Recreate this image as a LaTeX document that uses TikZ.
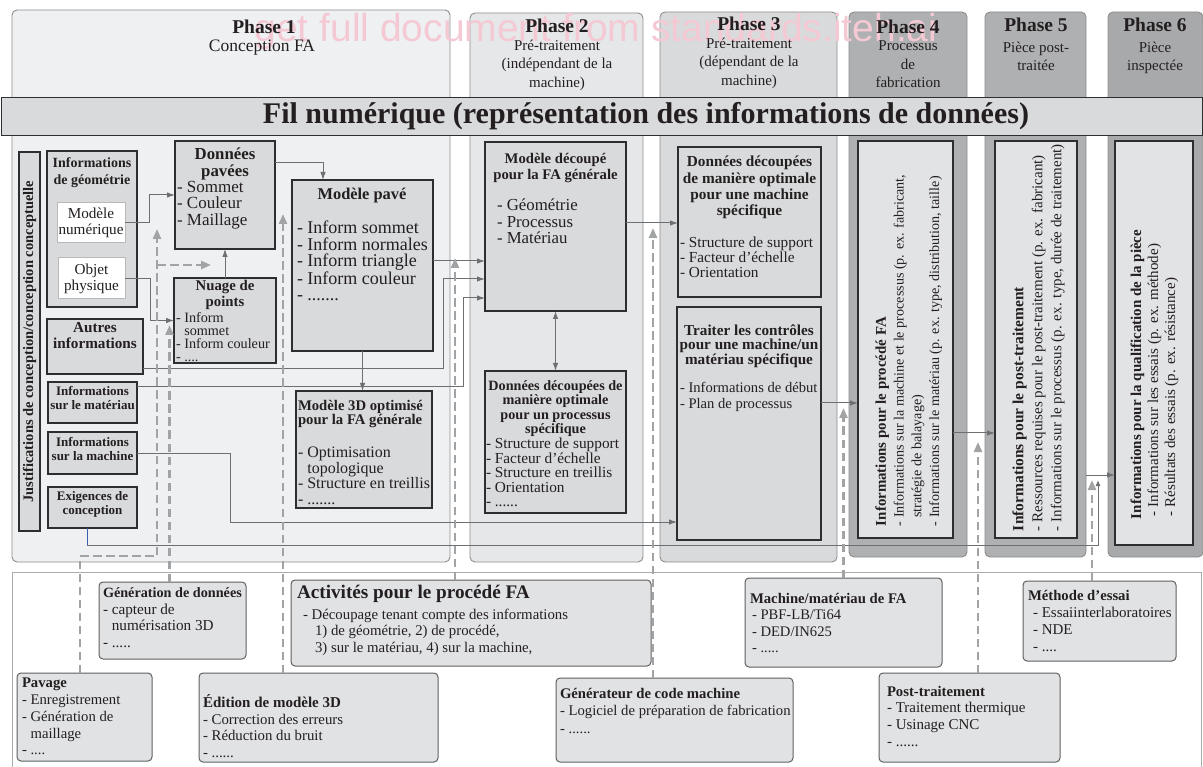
\documentclass[tikz,border=0pt]{standalone}
\usepackage{fontspec}
\setmainfont{Liberation Serif}
\newfontfamily\wmfont{Liberation Sans}
\usetikzlibrary{arrows.meta}
\newcommand\fsz[2]{\fontsize{#1}{#2}\selectfont}
\definecolor{pone}{HTML}{EFF0F2}
\definecolor{ptwo}{HTML}{E6E7E9}
\definecolor{pthree}{HTML}{D9DADC}
\definecolor{pfour}{HTML}{AFB0B2}
\definecolor{boxfill}{HTML}{D9DADC}
\definecolor{innerfill}{HTML}{E2E3E5}
\definecolor{actfill}{HTML}{E1E2E4}
\definecolor{conncol}{HTML}{6E6F71}
\definecolor{dashcol}{HTML}{A2A3A5}
\definecolor{wmpink}{HTML}{F4C9D4}
\definecolor{edgecol}{HTML}{2E2E30}
\definecolor{panedge}{HTML}{8C8D8F}
\definecolor{txtcol}{HTML}{231F20}
\definecolor{bluecol}{HTML}{3A5DAE}
\begin{document}
\begin{tikzpicture}[x=1pt,y=-1pt,
  panel/.style={draw=panedge, rounded corners=5pt, line width=0.9pt, anchor=north west, inner sep=0pt, outer sep=0pt},
  bx/.style={draw=edgecol, fill=boxfill, line width=1.1pt, anchor=north west, inner sep=0pt, outer sep=0pt},
  wbx/.style={draw=gray!55, fill=white, line width=1pt, anchor=north west, inner sep=0pt, outer sep=0pt, align=center, text=txtcol},
  ibx/.style={draw=edgecol, fill=innerfill, line width=1.5pt, anchor=north west, inner sep=0pt, outer sep=0pt},
  abx/.style={draw=gray!75!black, fill=actfill, rounded corners=4pt, line width=1pt, anchor=north west, inner sep=0pt, outer sep=0pt},
  frame/.style={draw=gray!65, line width=0.8pt, anchor=north west, inner sep=0pt, outer sep=0pt},
  tl/.style={inner sep=0pt, outer sep=0pt, anchor=north west, align=left, text=txtcol},
  tcen/.style={inner sep=0pt, outer sep=0pt, align=center, text=txtcol},
  conn/.style={draw=conncol, line width=1pt, -{Latex[length=8pt,width=5.5pt]}},
  dconn/.style={draw=dashcol, line width=2.4pt, dash pattern=on 8.5pt off 4.5pt, -{Triangle[length=10pt,width=8pt]}}
]
\useasboundingbox (0,0) rectangle (1203,767);
\fill[white] (0,0) rectangle (1203,767);

% phase panels
\node[panel, fill=pone, minimum width=438pt, minimum height=552pt] (p1) at (12,10) {};
\node[panel, fill=ptwo, minimum width=173pt, minimum height=549pt] (p2) at (470,13) {};
\node[panel, fill=pthree, minimum width=177pt, minimum height=550pt] (p3) at (660,12) {};
\node[panel, fill=pfour, minimum width=118pt, minimum height=545pt] (p4) at (849,12) {};
\node[panel, fill=pfour, minimum width=101pt, minimum height=545pt] (p5) at (985,12) {};
\node[panel, fill=pfour!96!black, minimum width=95pt, minimum height=545pt] (p6) at (1108,12) {};

% watermark
\node[text=wmpink, font=\wmfont\fsz{39}{42}, inner sep=0pt] (wm) at (596,31) {get full document from standards.iteh.ai};

% phase headers
\node[tcen, font=\bfseries\fsz{19.5}{20}] (h1) at (264,27) {Phase 1};
\node[tcen, font=\fsz{17.5}{18}] (h1s) at (262,48) {Conception FA};
\node[tcen, font=\bfseries\fsz{19.5}{20}] (h2) at (557,26) {Phase 2};
\node[tcen, anchor=north, font=\fsz{15}{18.5}] (h2s) at (557,40) {Pré-traitement\\(indépendant de la\\machine)};
\node[tcen, font=\bfseries\fsz{19.5}{20}] (h3) at (749,24) {Phase 3};
\node[tcen, anchor=north, font=\fsz{15}{18.5}] (h3s) at (749,38) {Pré-traitement\\(dépendant de la\\machine)};
\node[tcen, font=\bfseries\fsz{19.5}{20}] (h4) at (908,27) {Phase 4};
\node[tcen, anchor=north, font=\fsz{15}{18.5}] (h4s) at (908,41) {Processus\\de\\fabrication};
\node[tcen, font=\bfseries\fsz{19.5}{20}] (h5) at (1036,25) {Phase 5};
\node[tcen, anchor=north, font=\fsz{15}{18.5}] (h5s) at (1036,42) {Pièce post-\\traitée};
\node[tcen, font=\bfseries\fsz{19.5}{20}] (h6) at (1155,25) {Phase 6};
\node[tcen, anchor=north, font=\fsz{15}{18.5}] (h6s) at (1155,42) {Pièce\\inspectée};

% bottom frame
\node[frame, minimum width=1189pt, minimum height=230pt] (bf) at (12,572) {};

% digital thread bar
\node[anchor=north west, draw=edgecol, fill=pthree, line width=1.1pt, minimum width=1201pt, minimum height=38pt, inner sep=0pt] (fil) at (1,97) {};
\node[tcen, font=\bfseries\fsz{30}{32}] (filt) at (646,116) {Fil numérique (représentation des informations de données)};

% ---------- Phase 1 ----------
\node[bx, minimum width=21pt, minimum height=379pt] (just) at (19,152) {};
\node[tcen, rotate=90, font=\bfseries\fsz{14.5}{16}] (justt) at (just.center) {Justifications de conception/conception conceptuelle};

\node[bx, minimum width=90pt, minimum height=156pt] (geo) at (47,151) {};
\node[tcen, font=\bfseries\fsz{14}{17}] (geot) at (92,172.5) {Informations\\de géométrie};
\node[wbx, minimum width=68pt, minimum height=40pt, font=\fsz{15.2}{16}] (mn) at (57,203) {Modèle\\numérique};
\node[wbx, minimum width=67pt, minimum height=41pt, font=\fsz{15.2}{16}] (op) at (58,258) {Objet\\physique};

\node[bx, minimum width=96pt, minimum height=55pt] (autres) at (47,319) {};
\node[tcen, font=\bfseries\fsz{15.2}{16}] (autrest) at (95,336) {Autres\\informations};
\node[bx, minimum width=89pt, minimum height=41pt] (mat) at (48,382) {};
\node[tcen, font=\bfseries\fsz{13}{14}] (matt) at (92.5,398) {Informations\\sur le matériau};
\node[bx, minimum width=89pt, minimum height=42pt] (mach) at (48,432) {};
\node[tcen, font=\bfseries\fsz{13}{14}] (macht) at (92.5,449) {Informations\\sur la machine};
\node[bx, minimum width=89pt, minimum height=41pt] (exig) at (48,487) {};
\node[tcen, font=\bfseries\fsz{13}{14}] (exigt) at (92.5,504) {Exigences de\\conception};

\node[bx, minimum width=100pt, minimum height=108pt] (dp) at (175,141) {};
\node[tcen, font=\bfseries\fsz{16.8}{16.5}] (dpt) at (225,164) {Données\\pavées};
\node[tl, font=\fsz{17}{16.5}] (dpl) at (177,181) {- Sommet\\- Couleur\\- Maillage};

\node[bx, minimum width=102pt, minimum height=85pt] (np) at (174,278) {};
\node[tcen, font=\bfseries\fsz{14.8}{16}] (npt) at (225,295) {Nuage de\\points};
\node[tl, font=\fsz{14.2}{13}] (npl) at (176,313) {- Inform\\\hphantom{- }sommet\\- Inform couleur\\- ....};

\node[bx, minimum width=141pt, minimum height=171pt] (mp) at (292,180) {};
\node[tcen, font=\bfseries\fsz{16.4}{17}] (mpt) at (362,196) {Modèle pavé};
\node[tl, font=\fsz{18}{16.5}] (mpl) at (297,221) {- Inform sommet\\- Inform normales\\- Inform triangle\\- Inform couleur\\- .......};

\node[bx, minimum width=136pt, minimum height=117pt] (m3d) at (296,391) {};
\node[tl, font=\bfseries\fsz{14.7}{14}] (m3dt) at (298,400) {Modèle 3D optimisé\\pour la FA générale};
\node[tl, font=\fsz{16}{15.5}] (m3dl) at (298,447) {- Optimisation\\\hphantom{- }topologique\\- Structure en treillis\\- .......};

% ---------- Phase 2 ----------
\node[bx, minimum width=141pt, minimum height=169pt] (md) at (485,142) {};
\node[tcen, font=\bfseries\fsz{14.7}{16}] (mdt) at (555.5,168) {Modèle découpé\\pour la FA générale};
\node[tl, font=\fsz{16.8}{16.5}] (mdl) at (497,199) {- Géométrie\\- Processus\\- Matériau};

\node[bx, minimum width=141pt, minimum height=142pt] (ddp) at (485,371) {};
\node[tcen, font=\bfseries\fsz{14.2}{14.4}] (ddpt) at (555.5,408.5) {Données découpées de\\manière optimale\\pour un processus\\spécifique};
\node[tl, font=\fsz{15.3}{14.5}] (ddpl) at (486,438) {- Structure de support\\- Facteur d’échelle\\- Structure en treillis\\- Orientation\\- ......};

% ---------- Phase 3 ----------
\node[bx, minimum width=143pt, minimum height=150pt] (ddm) at (678,147) {};
\node[tcen, font=\bfseries\fsz{15.3}{16.3}] (ddmt) at (749.5,187.5) {Données découpées\\de manière optimale\\pour une machine\\spécifique};
\node[tl, font=\fsz{15.3}{15}] (ddml) at (680,237) {- Structure de support\\- Facteur d’échelle\\- Orientation};

\node[bx, minimum width=144pt, minimum height=233pt] (trt) at (677,307) {};
\node[tcen, font=\bfseries\fsz{15.2}{14.5}] (trtt) at (749,346) {Traiter les contrôles\\pour une machine/un\\matériau spécifique};
\node[tl, font=\fsz{14.6}{16}] (trtl) at (680,382) {- Informations de début\\- Plan de processus};

% ---------- Phases 4-6 ----------
\node[ibx, minimum width=95pt, minimum height=397pt] (i4) at (858,141) {};
\node[tl, rotate=90, font=\fsz{14.1}{17.7}] (i4t) at (875.5,526) {\textbf{\fsz{14.9}{17.7}Informations pour le procédé FA}\\- Informations sur la machine et le processus (p. ex. fabricant,\\\hphantom{- }stratégie de balayage)\\- Informations sur le matériau (p. ex. type, distribution, taille)};
\node[ibx, minimum width=82pt, minimum height=397pt] (i5) at (995,141) {};
\node[tl, rotate=90, font=\fsz{15}{19}] (i5t) at (1012.5,531) {\textbf{\fsz{15.5}{19}Informations pour le post-traitement}\\- Ressources requises pour le post-traitement (p. ex. fabricant)\\- Informations sur le processus (p. ex. type, durée de traitement)};
\node[ibx, minimum width=78pt, minimum height=404pt] (i6) at (1115,141) {};
\node[tl, rotate=90, font=\fsz{15}{17}] (i6t) at (1130.5,519) {\textbf{\fsz{15}{17}Informations pour la qualification de la pièce}\\\hspace*{3pt}- Informations sur les essais (p. ex. méthode)\\\hspace*{3pt}- Résultats des essais (p. ex. résistance)};

% ---------- bottom activity boxes ----------
\node[abx, minimum width=135pt, minimum height=88pt] (pav) at (17,673) {};
\node[tl, font=\fsz{14.7}{16.8}] (pavt) at (22,678) {\textbf{Pavage}\\- Enregistrement\\- Génération de\\\hphantom{- }maillage\\- ....};
\node[abx, minimum width=147pt, minimum height=77pt] (gen) at (99,582) {};
\node[tl, font=\fsz{15.2}{16.5}] (gent) at (103,588) {\textbf{\fsz{14.2}{16.5}Génération de données}\\- capteur de\\\hphantom{- }numérisation 3D\\- .....};
\node[abx, minimum width=239pt, minimum height=89pt] (edit) at (199,673) {};
\node[tl, font=\fsz{14.8}{16.5}] (editt) at (203,695) {\textbf{\fsz{15}{16.5}Édition de modèle 3D}\\- Correction des erreurs\\- Réduction du bruit\\- ......};
\node[abx, minimum width=360pt, minimum height=86pt] (act) at (291,580) {};
\node[tl, font=\bfseries\fsz{19.2}{20}] (actt) at (297,585) {Activités pour le procédé FA};
\node[tl, font=\fsz{14.8}{16.5}] (actl) at (303,609) {- Découpage tenant compte des informations\\\hspace*{12pt}1) de géométrie, 2) de procédé,\\\hspace*{12pt}3) sur le matériau, 4) sur la machine,};
\node[abx, minimum width=237pt, minimum height=84pt] (code) at (556,678) {};
\node[tl, font=\fsz{14.7}{17.5}] (codet) at (560,688) {\textbf{\fsz{14.7}{17.5}Générateur de code machine}\\- Logiciel de préparation de fabrication\\- ......};
\node[abx, minimum width=197pt, minimum height=89pt] (mm) at (745,578) {};
\node[tl, font=\fsz{14.6}{16.5}] (mmt) at (750,593) {\textbf{\fsz{14.7}{16.5}Machine/matériau de FA}\\\hspace*{2pt}- PBF-LB/Ti64\\\hspace*{2pt}- DED/IN625\\\hspace*{2pt}- .....};
\node[abx, minimum width=181pt, minimum height=89pt] (post) at (879,673) {};
\node[tl, font=\fsz{15}{16.7}] (postt) at (887,686) {\textbf{\fsz{14.7}{16.7}Post-traitement}\\- Traitement thermique\\- Usinage CNC\\- ......};
\node[abx, minimum width=153pt, minimum height=80pt] (meth) at (1023,581) {};
\node[tl, font=\fsz{15}{17}] (metht) at (1028,590) {\textbf{\fsz{14.7}{17}Méthode d’essai}\\\hspace*{5pt}- Essaiinterlaboratoires\\\hspace*{5pt}- NDE\\\hspace*{5pt}- ....};

% ---------- helper coordinates ----------
\coordinate (s4) at ([yshift=32pt]dp.east);
\coordinate (e4) at ([xshift=31pt]mp.north west);
\coordinate (s6) at ([yshift=4.5pt]mp.east);
\coordinate (s7) at ([yshift=-22.5pt]autres.east);
\coordinate (b7) at ([xshift=-42pt,yshift=-52.5pt]md.west);
\coordinate (e7) at ([yshift=-52.5pt]md.west);
\coordinate (s8) at ([yshift=16pt]mat.east);
\coordinate (b8) at ([xshift=-22pt,yshift=-71.5pt]md.west);
\coordinate (e8) at ([yshift=-71.5pt]md.west);
\coordinate (b9) at ([xshift=-447pt,yshift=-98.5pt]trt.west);
\coordinate (e9) at ([yshift=-98.5pt]trt.west);
\coordinate (s10) at ([xshift=-5pt]exig.south);
\coordinate (e10) at ([xshift=-17pt,yshift=-137pt]i6.west);
\coordinate (s11) at ([yshift=3.5pt]md.east);
\coordinate (s12) at ([yshift=20.5pt]trt.east);
\coordinate (s13) at ([yshift=-93.5pt]i4.east);
\coordinate (e14) at ([yshift=-132pt]i6.west);

% ---------- solid connectors ----------
\draw[conn] (mn.east) -- ++(24,0) |- (dp.west);
\draw[conn] (op.east) -- ++(25,0) |- (np.west);
\draw[conn] (np.north) -- (dp.south);
\draw[conn] (s4) -| (e4);
\draw[conn] (mp.south) -- (mp.south |- m3d.north);
\draw[conn] (s6) -- (s6 -| md.west);
\draw[conn] (s7) -| (b7) -- (e7);
\draw[conn] (s8) -| (b8) -- (e8);
\draw[conn] (mach.east) -| (b9) -- (e9);
\draw[conn, -{Latex[length=6pt,width=5pt]}] (s10) -- ++(0,17) -| (e10);
\draw[bluecol, line width=0.8pt] (s10) -- ++(0,17);
\draw[conn] (s11) -- (s11 -| ddm.west);
\draw[conn, {Latex[length=8pt,width=5.5pt]}-{Latex[length=8pt,width=5.5pt]}] (md.south) -- (ddp.north);
\draw[conn] (s12) -- (s12 -| i4.west);
\draw[conn] (s13) -- (s13 -| i5.west);
\draw[conn] (e14 -| p5.east) -- (e14);

% ---------- dashed connectors ----------
\coordinate (bendA) at (157,556);
\coordinate (tipA) at (157,229);
\coordinate (brA) at (157,265);
\coordinate (tipA2) at (211,265);
\coordinate (tipB) at (169.5,325);
\coordinate (tipC) at (283,214);
\coordinate (tipD) at (455,258);
\coordinate (tipE) at (653,228);
\coordinate (tipF) at (843.5,408);
\coordinate (tipG) at (978,442);
\coordinate (tipH) at (1092,480);
\coordinate (sa) at ([xshift=-4.5pt]pav.north);
\coordinate (sb) at ([xshift=-3pt]gen.north);
\coordinate (sc) at ([xshift=-35.5pt]edit.north);
\coordinate (sd) at ([xshift=-16pt]act.north);
\coordinate (se) at ([xshift=-21.5pt]code.north);
\coordinate (sf) at (mm.north);
\coordinate (sg) at ([xshift=8.5pt]post.north);
\coordinate (sh) at ([xshift=-7.5pt]meth.north);
\draw[dconn] (sa) |- (bendA) -- (tipA);
\draw[dconn] (brA) -- (tipA2);
\draw[dconn] (sb) -- (sb |- tipB);
\draw[dconn] (sc) -- (sc |- tipC);
\draw[dconn] (sd) -- (sd |- tipD);
\draw[dconn] (se) -- (se |- tipE);
\draw[dconn] (sf) -- (sf |- tipF);
\draw[dconn] (sg) -- (sg |- tipG);
\draw[dconn] (sh) -- (sh |- tipH);
\end{tikzpicture}
\end{document}
